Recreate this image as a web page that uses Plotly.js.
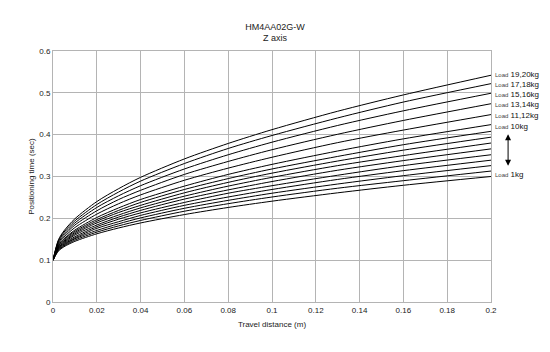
<!DOCTYPE html>
<html><head><meta charset="utf-8">
<script src="https://cdn.plot.ly/plotly-3.0.1.min.js"></script>
<style>html,body{margin:0;padding:0;background:#fff}#chart{width:550px;height:352px}</style>
</head><body><div id="chart"></div>
<script>
// Travel distance (m)
const distance = [0, 0.0025, 0.005, 0.01, 0.02, 0.03, 0.04, 0.06, 0.08, 0.1, 0.13, 0.16, 0.2];
// Positioning time (sec) per load
const load1  = [0.1, 0.122, 0.132, 0.145, 0.163, 0.177, 0.189, 0.209, 0.226, 0.241, 0.261, 0.279, 0.300];
const load2  = [0.1, 0.124, 0.134, 0.148, 0.167, 0.182, 0.195, 0.217, 0.235, 0.251, 0.272, 0.290, 0.313];
const load3  = [0.1, 0.125, 0.136, 0.151, 0.171, 0.187, 0.201, 0.224, 0.243, 0.260, 0.282, 0.302, 0.326];
const load4  = [0.1, 0.127, 0.138, 0.153, 0.176, 0.192, 0.207, 0.231, 0.251, 0.269, 0.293, 0.314, 0.339];
const load5  = [0.1, 0.128, 0.140, 0.156, 0.180, 0.198, 0.213, 0.238, 0.260, 0.278, 0.303, 0.326, 0.352];
const load6  = [0.1, 0.130, 0.142, 0.160, 0.184, 0.203, 0.219, 0.246, 0.268, 0.288, 0.315, 0.338, 0.366];
const load7  = [0.1, 0.131, 0.144, 0.163, 0.189, 0.208, 0.225, 0.253, 0.277, 0.298, 0.326, 0.350, 0.380];
const load8  = [0.1, 0.133, 0.146, 0.166, 0.193, 0.214, 0.231, 0.261, 0.286, 0.308, 0.337, 0.363, 0.394];
const load9  = [0.1, 0.134, 0.149, 0.169, 0.197, 0.219, 0.238, 0.269, 0.295, 0.318, 0.348, 0.376, 0.408];
const load10 = [0.1, 0.136, 0.151, 0.172, 0.202, 0.225, 0.245, 0.277, 0.305, 0.329, 0.361, 0.390, 0.424];
const load11_12 = [0.1, 0.139, 0.155, 0.178, 0.210, 0.235, 0.256, 0.291, 0.320, 0.346, 0.381, 0.411, 0.448];
const load13_14 = [0.1, 0.142, 0.159, 0.184, 0.218, 0.245, 0.267, 0.305, 0.336, 0.364, 0.401, 0.434, 0.474];
const load15_16 = [0.1, 0.145, 0.163, 0.189, 0.226, 0.254, 0.278, 0.318, 0.352, 0.382, 0.422, 0.457, 0.499];
const load17_18 = [0.1, 0.147, 0.167, 0.194, 0.233, 0.263, 0.289, 0.331, 0.367, 0.398, 0.440, 0.478, 0.522];
const load19_20 = [0.1, 0.149, 0.170, 0.199, 0.240, 0.271, 0.298, 0.342, 0.379, 0.412, 0.456, 0.495, 0.542];

const series = [load1, load2, load3, load4, load5, load6, load7, load8, load9, load10,
                load11_12, load13_14, load15_16, load17_18, load19_20];

// Right-side labels
const labelWords = ['Load', 'Load', 'Load', 'Load', 'Load', 'Load', 'Load'];
const labelLoads = ['19,20kg', '17,18kg', '15,16kg', '13,14kg', '11,12kg', '10kg', '1kg'];
const labelY = [0.544, 0.520, 0.496, 0.471, 0.445, 0.419, 0.305];

const xTicks = [0, 0.02, 0.04, 0.06, 0.08, 0.1, 0.12, 0.14, 0.16, 0.18, 0.2];
const xTickText = ['0', '0.02', '0.04', '0.06', '0.08', '0.1', '0.12', '0.14', '0.16', '0.18', '0.2'];
const yTicks = [0, 0.1, 0.2, 0.3, 0.4, 0.5, 0.6];
const yTickText = ['0', '0.1', '0.2', '0.3', '0.4', '0.5', '0.6'];

const traces = series.map(s => ({
  x: distance, y: s, type: 'scatter', mode: 'lines',
  line: {color: '#000', width: 1, shape: 'spline', smoothing: 0.8},
  hoverinfo: 'skip', showlegend: false
}));

const annotations = labelLoads.map((t, i) => ({
  xref: 'paper', yref: 'y', x: 1.005, y: labelY[i], xanchor: 'left', yanchor: 'middle',
  text: "<span style='font-size:6px;color:#444'>" + labelWords[i] + "</span> " + t,
  showarrow: false, font: {family: 'Liberation Sans, Arial, sans-serif', size: 8, color: '#111'}
}));
annotations.push({
  xref: 'paper', yref: 'y', x: 1.039, y: 0.401, text: '', showarrow: true,
  ax: 0, ay: 33, arrowside: 'end+start', arrowhead: 2, arrowsize: 1.2, arrowwidth: 1, arrowcolor: '#000'
});

const gridCol = '#b4b4b4';
const layout = {
  width: 550, height: 352,
  margin: {l: 53, r: 59, t: 51, b: 50},
  paper_bgcolor: '#fff', plot_bgcolor: '#fff',
  font: {family: 'Liberation Sans, Arial, sans-serif', size: 8, color: '#222'},
  title: {text: 'HM4AA02G-W<br>Z axis', x: 0.5, xanchor: 'center', y: 0.916, yanchor: 'top',
          font: {size: 9, color: '#222'}},
  xaxis: {range: [0, 0.2], tickvals: xTicks, ticktext: xTickText, showgrid: true, gridcolor: gridCol,
          gridwidth: 1, zeroline: false, showline: true, linecolor: gridCol, mirror: true, ticks: '',
          tickfont: {size: 8, color: '#222'},
          title: {text: 'Travel distance (m)', font: {size: 8, color: '#222'}, standoff: 7}},
  yaxis: {range: [0, 0.6], tickvals: yTicks, ticktext: yTickText, showgrid: true, gridcolor: gridCol,
          gridwidth: 1, zeroline: false, showline: true, linecolor: gridCol, mirror: true, ticks: '',
          tickfont: {size: 8, color: '#222'},
          title: {text: 'Positioning time (sec)', font: {size: 8, color: '#222'}, standoff: 3}},
  annotations: annotations
};

Plotly.newPlot('chart', traces, layout, {staticPlot: true, displayModeBar: false});
</script></body></html>
